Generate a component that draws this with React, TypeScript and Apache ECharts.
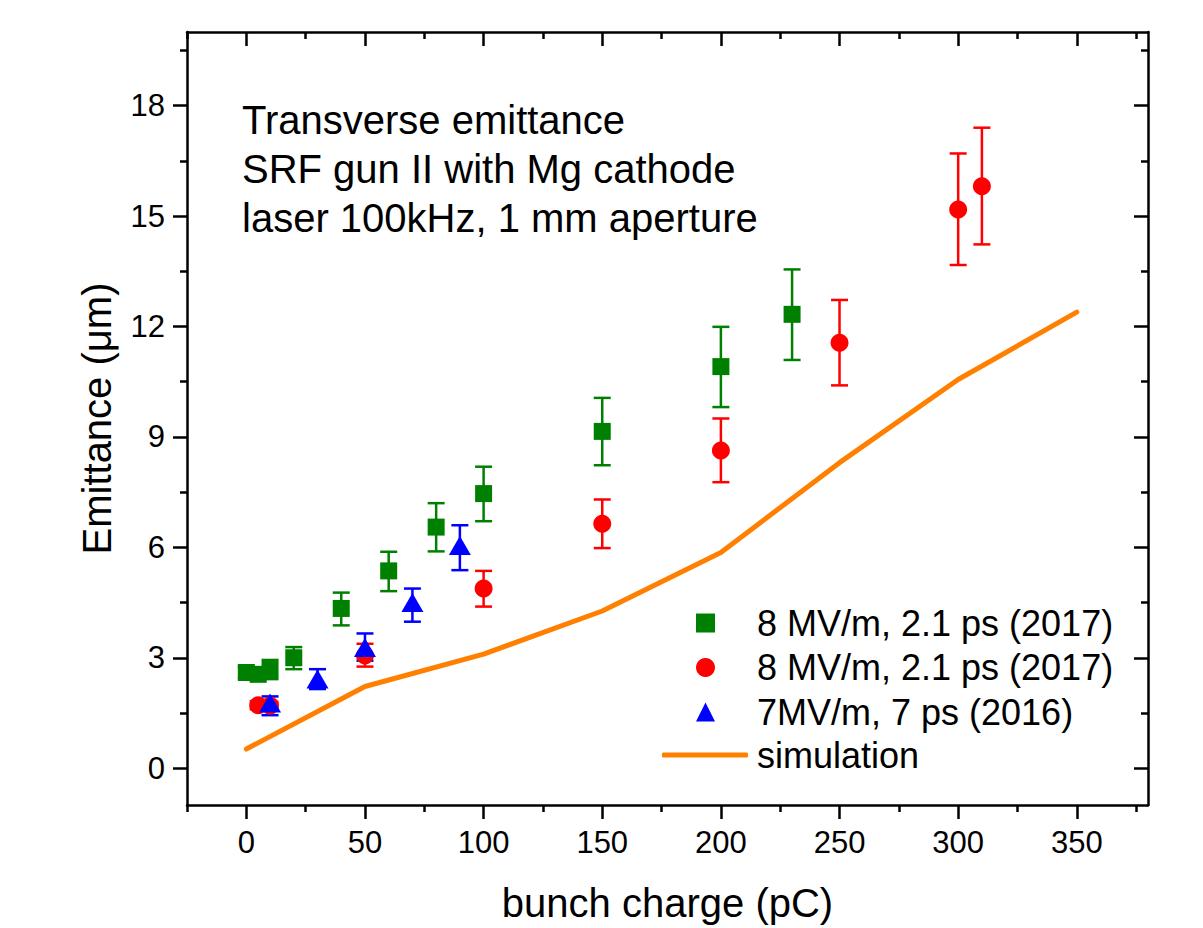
import React, { useEffect, useRef } from "react";
import * as echarts from "echarts";

// ---- data ----
const greenX = [0, 5, 10, 20, 40, 60, 80, 100, 150, 200, 230];
const greenY = [2.6, 2.55, 2.68, 3.0, 4.34, 5.36, 6.55, 7.46, 9.15, 10.91, 12.33];
const greenLo = [2.45, 2.42, 2.42, 2.69, 3.88, 4.81, 5.89, 6.71, 8.23, 9.81, 11.09];
const greenHi = [2.75, 2.7, 2.94, 3.29, 4.77, 5.88, 7.2, 8.19, 10.06, 11.99, 13.55];

const redX = [5, 10, 50, 100, 150, 200, 250, 300, 310];
const redY = [1.71, 1.7, 3.06, 4.88, 6.64, 8.63, 11.56, 15.18, 15.81];
const redLo = [1.6, 1.6, 2.76, 4.39, 5.98, 7.77, 10.4, 13.67, 14.23];
const redHi = [1.82, 1.8, 3.38, 5.36, 7.3, 9.5, 12.72, 16.7, 17.4];

const blueX = [10, 30, 50, 70, 90];
const blueY = [1.77, 2.42, 3.28, 4.5, 6.05];
const blueLo = [1.44, 2.15, 2.92, 3.98, 5.38];
const blueHi = [1.95, 2.69, 3.66, 4.88, 6.6];

const simX = [0, 50, 100, 150, 200, 250, 300, 350];
const simY = [0.52, 2.22, 3.1, 4.27, 5.86, 8.3, 10.56, 12.39];

const xMajor = [0, 50, 100, 150, 200, 250, 300, 350];
const xMinor = [-25, 25, 75, 125, 175, 225, 275, 325, 375];
const yMajor = [0, 3, 6, 9, 12, 15, 18];
const yMinor = [1.5, 4.5, 7.5, 10.5, 13.5, 16.5, 19.5];

const legendLabels: Record<string, string> = {
  g: "8 MV/m, 2.1 ps (2017)",
  r: "8 MV/m, 2.1 ps (2017)",
  b: "7MV/m, 7 ps (2016)",
  s: "simulation",
};
const annotation = [
  "Transverse emittance",
  "SRF gun II with Mg cathode",
  "laser 100kHz, 1 mm aperture",
];

const FONT = "'Liberation Sans', Arial, sans-serif";
const BLACK = "#000";
const GREEN = "#008000";
const RED = "#ff0000";
const BLUE = "#0000ff";
const ORANGE = "#ff8000";

function errorBars(xs: number[], lo: number[], hi: number[], color: string) {
  return {
    type: "custom",
    silent: true,
    data: xs.map((x, i) => [x, lo[i], hi[i]]),
    encode: { x: 0, y: [1, 2] },
    renderItem: (params: any, api: any) => {
      const x = api.value(0);
      const top = api.coord([x, api.value(2)]);
      const bot = api.coord([x, api.value(1)]);
      const hw = 8.5;
      const style = { stroke: color, lineWidth: 2.5 };
      return {
        type: "group",
        children: [
          { type: "line", shape: { x1: top[0], y1: top[1], x2: bot[0], y2: bot[1] }, style },
          { type: "line", shape: { x1: top[0] - hw, y1: top[1], x2: top[0] + hw, y2: top[1] }, style },
          { type: "line", shape: { x1: bot[0] - hw, y1: bot[1], x2: bot[0] + hw, y2: bot[1] }, style },
        ],
      };
    },
  };
}

function xAxisDef(position: "bottom" | "top", major: boolean) {
  const inside = position === "top";
  return {
    type: "value",
    min: -25,
    max: 380,
    position,
    splitLine: { show: false },
    axisLine: { show: major, onZero: false, lineStyle: { color: BLACK, width: 2.5 } },
    axisTick: {
      show: true,
      inside,
      length: major ? 14 : 7,
      customValues: major ? xMajor : xMinor,
      lineStyle: { color: BLACK, width: 2.5 },
    },
    axisLabel:
      major && position === "bottom"
        ? { show: true, customValues: xMajor, fontSize: 31, color: BLACK, fontFamily: FONT, margin: 22 }
        : { show: false },
    ...(major && position === "bottom"
      ? {
          name: "bunch charge (pC)",
          nameLocation: "middle",
          nameGap: 78,
          nameTextStyle: { fontSize: 40, color: BLACK, fontFamily: FONT },
        }
      : {}),
  };
}

function yAxisDef(position: "left" | "right", major: boolean) {
  const inside = position === "right";
  return {
    type: "value",
    min: -1,
    max: 20,
    position,
    splitLine: { show: false },
    axisLine: { show: major, onZero: false, lineStyle: { color: BLACK, width: 2.5 } },
    axisTick: {
      show: true,
      inside,
      length: major ? 14 : 7,
      customValues: major ? yMajor : yMinor,
      lineStyle: { color: BLACK, width: 2.5 },
    },
    axisLabel:
      major && position === "left"
        ? { show: true, customValues: yMajor, fontSize: 31, color: BLACK, fontFamily: FONT, margin: 22 }
        : { show: false },
    ...(major && position === "left"
      ? {
          name: "Emittance (\u03bcm)",
          nameLocation: "middle",
          nameGap: 70,
          nameTextStyle: { fontSize: 40, color: BLACK, fontFamily: FONT },
        }
      : {}),
  };
}

const legendText = { fontSize: 36, color: BLACK, fontFamily: FONT, lineHeight: 40 };

export default function App() {
  const ref = useRef<HTMLDivElement>(null);
  useEffect(() => {
    if (!ref.current) return;
    const chart = echarts.init(ref.current, undefined, { renderer: "svg" });
    chart.setOption({
      animation: false,
      backgroundColor: "#fff",
      textStyle: { fontFamily: FONT },
      grid: { left: 187, top: 32, right: 55, bottom: 121, containLabel: false },
      xAxis: [
        xAxisDef("bottom", true),
        xAxisDef("bottom", false),
        xAxisDef("top", true),
        xAxisDef("top", false),
      ],
      yAxis: [
        yAxisDef("left", true),
        yAxisDef("left", false),
        yAxisDef("right", true),
        yAxisDef("right", false),
      ],
      legend: [
        {
          data: [
            { name: "g", icon: "rect" },
            { name: "r", icon: "circle" },
            { name: "b", icon: "triangle" },
          ],
          orient: "vertical",
          left: 696,
          top: 603,
          padding: 0,
          itemWidth: 19,
          itemHeight: 19,
          itemGap: 4.5,
          formatter: (n: string) => legendLabels[n],
          textStyle: { ...legendText, padding: [0, 0, 0, 37] },
        },
        {
          data: [{ name: "s", icon: "roundRect" }],
          orient: "vertical",
          left: 662,
          top: 735,
          padding: 0,
          itemWidth: 86,
          itemHeight: 5,
          formatter: (n: string) => legendLabels[n],
          textStyle: { ...legendText, padding: [0, 0, 0, 4] },
        },
      ],
      graphic: [
        {
          type: "text",
          x: 242,
          y: 95,
          style: {
            text: annotation.join("\n"),
            font: `40px ${FONT}`,
            lineHeight: 49,
            fill: BLACK,
          },
        },
      ],
      series: [
        { ...errorBars(greenX, greenLo, greenHi, GREEN) },
        {
          name: "g",
          type: "scatter",
          symbol: "rect",
          symbolSize: 17,
          itemStyle: { color: GREEN, opacity: 1 },
          data: greenX.map((x, i) => [x, greenY[i]]),
        },
        { ...errorBars(redX, redLo, redHi, RED) },
        {
          name: "r",
          type: "scatter",
          symbol: "circle",
          symbolSize: 18,
          itemStyle: { color: RED, opacity: 1 },
          data: redX.map((x, i) => [x, redY[i]]),
        },
        { ...errorBars(blueX, blueLo, blueHi, BLUE) },
        {
          name: "b",
          type: "scatter",
          symbol: "triangle",
          symbolSize: [22, 19],
          itemStyle: { color: BLUE, opacity: 1 },
          data: blueX.map((x, i) => [x, blueY[i]]),
        },
        {
          name: "s",
          type: "line",
          symbol: "none",
          lineStyle: { color: ORANGE, width: 5, cap: "round", join: "round" },
          itemStyle: { color: ORANGE },
          data: simX.map((x, i) => [x, simY[i]]),
        },
      ],
    });
    return () => chart.dispose();
  }, []);
  return (
    <div
      ref={ref}
      style={{ position: "absolute", left: 0, top: 0, width: 1203, height: 928 }}
    />
  );
}
